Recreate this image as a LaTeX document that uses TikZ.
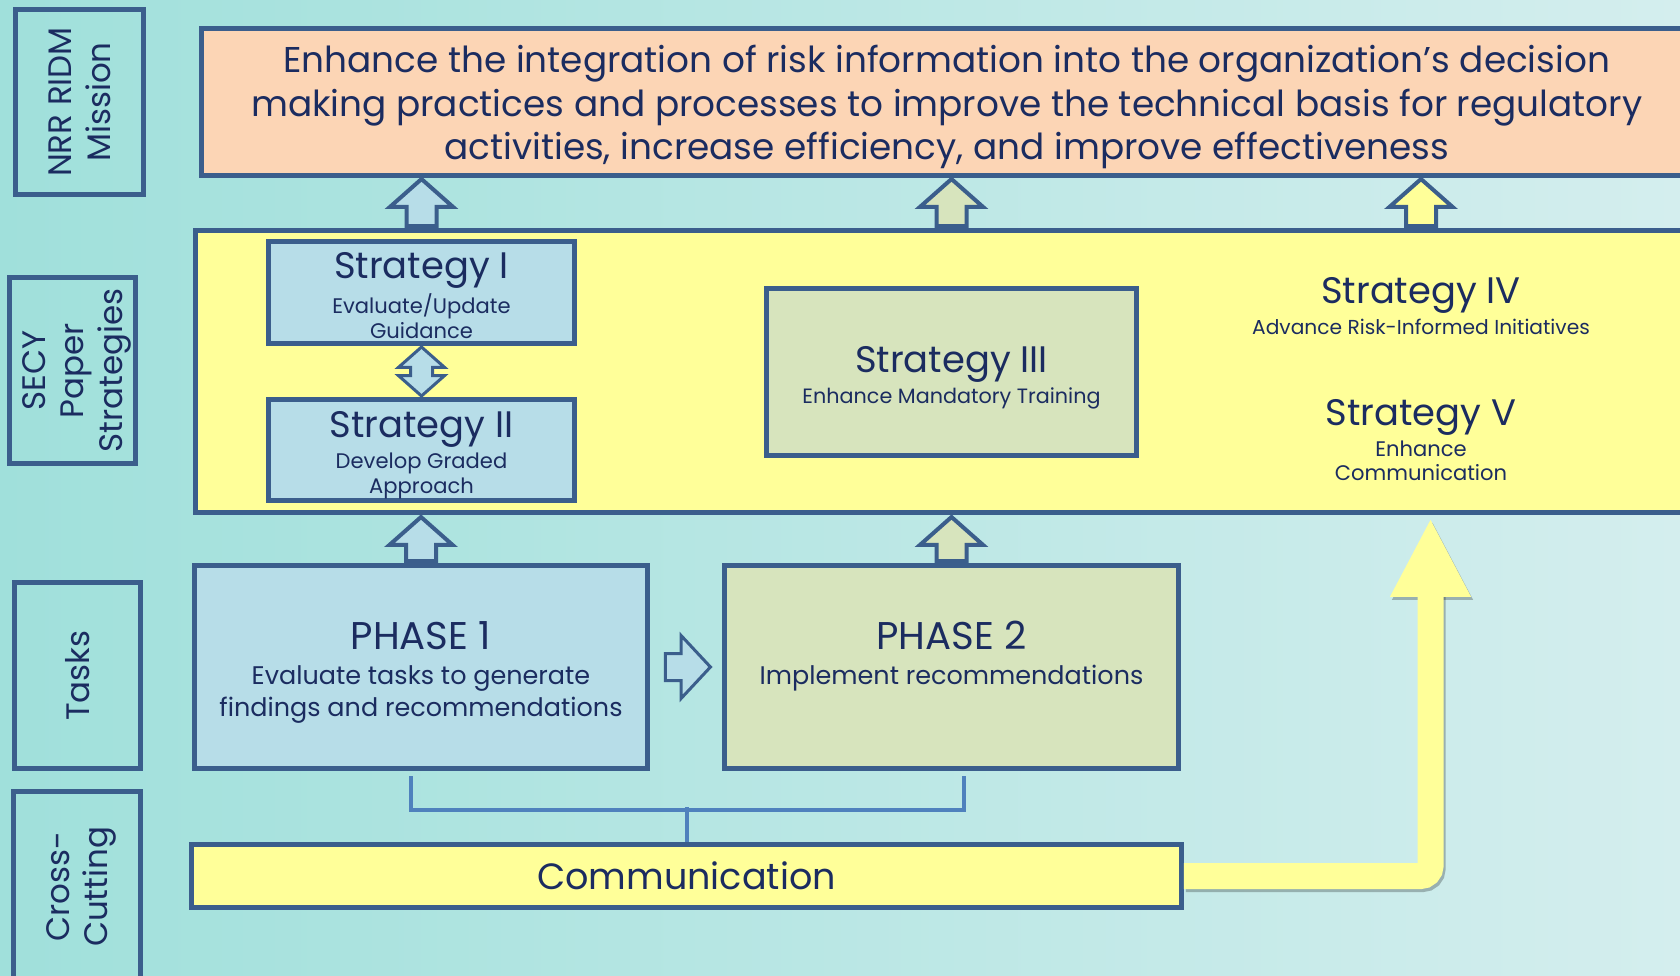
\documentclass[tikz,border=0pt]{standalone}
\usepackage{fontspec}
\setmainfont{Poppins}
\usetikzlibrary{shapes.arrows,arrows.meta,calc}

\definecolor{bgleft}{HTML}{A0E0DB}
\definecolor{bgright}{HTML}{D4EEEE}
\definecolor{edgeblue}{HTML}{3B5E8C}
\definecolor{navy}{HTML}{1B2C60}
\definecolor{peach}{HTML}{FCD5B5}
\definecolor{bandyellow}{HTML}{FFFF99}
\definecolor{lightblue}{HTML}{B7DDE8}
\definecolor{lightgreen}{HTML}{D7E4BD}
\definecolor{linkblue}{HTML}{4F81BD}

\newcommand\strtitle[1]{{\fontsize{21}{25}\selectfont #1}}

\tikzset{
  frame/.style={draw=edgeblue, line width=0.1cm},
  sidelabel/.style={frame, rotate=90, align=center, text=navy, inner sep=0pt,
    text depth=0pt, font=\fontsize{18.5}{22}\selectfont},
  box/.style={frame, inner sep=0pt},
  boxtext/.style={align=center, text=navy, inner sep=0pt},
  uparrow/.style={single arrow, draw=edgeblue, line width=0.08cm, rotate=90,
    inner xsep=0pt, inner ysep=0.26cm, single arrow head extend=0.33cm,
    single arrow tip angle=97, anchor=tail},
  bracket/.style={draw=linkblue, line width=0.08cm},
}

\begin{document}
\begin{tikzpicture}[x=0.02cm,y=-0.02cm]
  \useasboundingbox (0,0) rectangle (1680,976);
  \clip (0,0) rectangle (1680,976);
  \fill[left color=bgleft, right color=bgright] (0,0) rectangle (1680,976);

  % row labels
  \node[sidelabel, minimum width=3.7cm, minimum height=2.56cm] (lab1) at (79.5,102) {NRR RIDM\\Mission};
  \node[sidelabel, minimum width=3.72cm, minimum height=2.52cm] (lab2) at (72.5,370.5) {SECY\\Paper\\Strategies};
  \node[sidelabel, minimum width=3.72cm, minimum height=2.52cm] (lab3) at (77.5,675.5) {Tasks};
  \node[sidelabel, minimum width=3.81cm, minimum height=2.54cm] (lab4) at (77,886.75) {Cross-\\Cutting};

  % mission
  \node[box, fill=peach, minimum width=29.81cm, minimum height=2.94cm] (mission) at (946.75,102) {};
  \node[boxtext, font=\fontsize{20.4}{25}\selectfont] (missiont) at ($(mission.center)+(0,5)$)
    {Enhance the integration of risk information into the organization’s decision\\
     making practices and processes to improve the technical basis for regulatory\\
     activities, increase efficiency, and improve effectiveness};

  % strategies
  \node[box, fill=bandyellow, minimum width=30.09cm, minimum height=5.64cm] (band) at (947.75,371.5) {};
  \node[box, fill=lightblue, minimum width=6.12cm, minimum height=2.04cm] (s1) at (421.5,292.5) {};
  \node[boxtext, font=\fontsize{12}{14}\selectfont] (s1t) at ($(s1.center)+(0,3)$)
    {\strtitle{Strategy I}\\[2pt]Evaluate/Update\\Guidance};
  \node[box, fill=lightblue, minimum width=6.12cm, minimum height=2.02cm] (s2) at (421.5,450) {};
  \node[boxtext, font=\fontsize{12}{14}\selectfont] (s2t) at ($(s2.center)+(0,5)$)
    {\strtitle{Strategy II}\\[2pt]Develop Graded\\Approach};
  \node[box, fill=lightgreen, minimum width=7.4cm, minimum height=3.34cm] (s3) at (951.5,372) {};
  \node[boxtext, font=\fontsize{11.8}{14}\selectfont] (s3t) at ($(s3.center)+(0,6)$)
    {\strtitle{Strategy III}\\[2pt]Enhance Mandatory Training};
  \node[boxtext, font=\fontsize{11.5}{14}\selectfont] (s4) at (1421,306)
    {\strtitle{Strategy IV}\\[2pt]Advance Risk-Informed Initiatives};
  \node[boxtext, font=\fontsize{12}{14}\selectfont] (s5) at (1421,440)
    {\strtitle{Strategy V}\\[2pt]Enhance\\Communication};

  \node[double arrow, draw=edgeblue, fill=lightblue, line width=0.06cm, rotate=90,
    inner xsep=0pt, inner ysep=0.19cm, double arrow head extend=0.24cm,
    double arrow tip angle=97, minimum height=0.98cm] (dbl) at ($(s1.south)!0.5!(s2.north)$) {};

  % up into the mission
  \node[uparrow, fill=lightblue, minimum height=0.94cm] (up1) at (s1.north |- band.north) {};
  \node[uparrow, fill=lightgreen, minimum height=0.94cm] (up2) at (s3.north |- band.north) {};
  \node[uparrow, fill=bandyellow, minimum height=0.94cm] (up3) at (s4.north |- band.north) {};

  % phases
  \node[box, fill=lightblue, minimum width=9.06cm, minimum height=4.06cm] (ph1) at (421,667) {};
  \node[boxtext, anchor=north, font=\fontsize{14.5}{18}\selectfont] (ph1t) at ($(ph1.north)+(0,58)$)
    {{\fontsize{22}{26}\selectfont PHASE 1}\\[2pt]Evaluate tasks to generate\\findings and recommendations};
  \node[box, fill=lightgreen, minimum width=9.08cm, minimum height=4.06cm] (ph2) at (951.5,667) {};
  \node[boxtext, anchor=north, font=\fontsize{14.5}{18}\selectfont] (ph2t) at ($(ph2.north)+(0,58)$)
    {{\fontsize{22}{26}\selectfont PHASE 2}\\[2pt]Implement recommendations};
  \node[uparrow, fill=lightblue, minimum height=0.88cm] (up4) at (ph1.north) {};
  \node[uparrow, fill=lightgreen, minimum height=0.88cm] (up5) at (ph2.north) {};
  \node[single arrow, draw=edgeblue, fill=lightblue, line width=0.06cm, anchor=tail,
    inner xsep=0pt, inner ysep=0.24cm, single arrow head extend=0.36cm,
    single arrow tip angle=94, minimum height=0.9cm] (right) at ($(ph1.east)+(14,0)$) {};

  % cross-cutting
  \node[box, fill=bandyellow, minimum width=19.8cm, minimum height=1.26cm,
    boxtext, font=\fontsize{20.8}{26}\selectfont] (comm) at (686.5,876) {Communication};
  \coordinate (brl) at (410.5,776);
  \coordinate (brr) at (964,776);
  \draw[bracket] (brl) -- ++(0,33.5) -| (brr);
  \draw[bracket] (comm.north) -- ++(0,-35);

  \coordinate (bigtip) at (1430.5,518);
  \draw[line width=0.52cm, draw=black, opacity=0.25, rounded corners=0.2cm,
    transform canvas={shift={(2,3)}}, -{Triangle[width=1.5cm,length=1.58cm]}]
    (comm.east) -| (bigtip);
  \draw[line width=0.52cm, draw=bandyellow, rounded corners=0.2cm,
    -{Triangle[width=1.5cm,length=1.58cm]}] (comm.east) -| (bigtip);
\end{tikzpicture}
\end{document}
